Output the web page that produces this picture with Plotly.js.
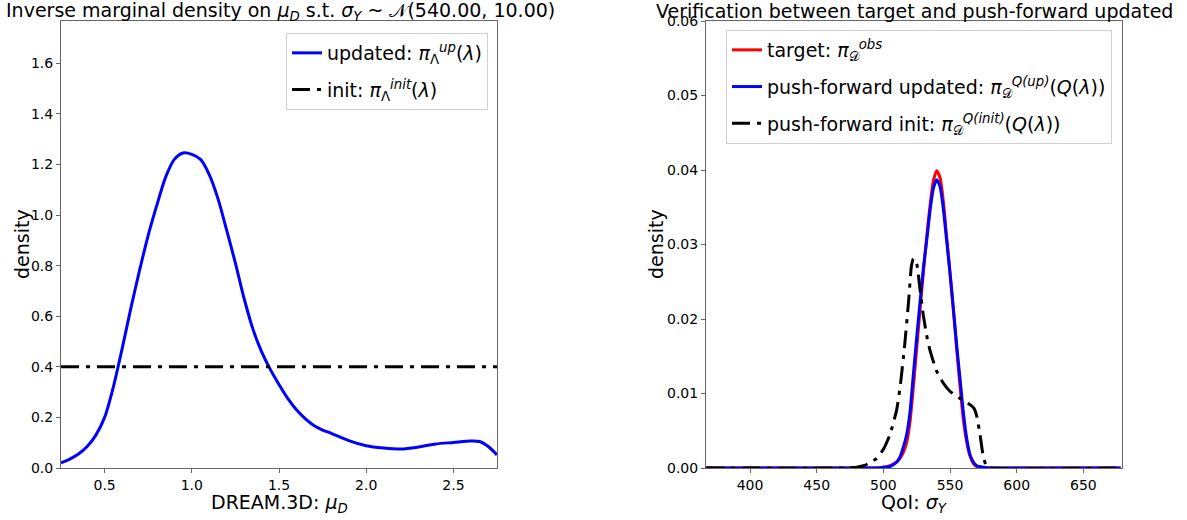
<!DOCTYPE html>
<html><head><meta charset="utf-8">
<script src="https://cdn.plot.ly/plotly-3.0.1.min.js"></script>
<style>html,body{margin:0;padding:0;background:#fff}</style>
</head><body><div id="chart" style="width:1187px;height:520px"></div>
<script>
// Left panel: inverse marginal density on mu_D
const muD = [0.25,0.3,0.35,0.4,0.45,0.5,0.55,0.6,0.65,0.7,0.75,0.8,0.85,0.9,0.95,1.0,1.05,1.1,1.15,1.2,1.25,1.3,1.35,1.4,1.45,1.5,1.55,1.6,1.65,1.7,1.75,1.8,1.9,2.0,2.1,2.2,2.3,2.4,2.5,2.6,2.65,2.7,2.75];
const densUpdated = [0.02,0.035,0.055,0.085,0.13,0.2,0.32,0.47,0.63,0.78,0.92,1.04,1.15,1.22,1.245,1.24,1.22,1.16,1.065,0.94,0.81,0.67,0.55,0.46,0.39,0.33,0.275,0.23,0.195,0.168,0.15,0.137,0.108,0.088,0.079,0.075,0.083,0.095,0.101,0.107,0.105,0.085,0.052];
const muDInit = [0.25, 2.75];
const densInit = [0.4, 0.4];

// Right panel: push-forward verification on sigma_Y
const qoiTarget = [367,480,495,500,505,510,512.5,515,517.5,520,522.5,525,527.5,530,532.5,535,537.5,540,542.5,545,547.5,550,552.5,555,557.5,560,562.5,565,567.5,570,575,580,600,678];
const densTarget = [0,0,0,0.0001,0.0003,0.0008,0.0013,0.0021,0.0034,0.0062,0.0108,0.0160,0.0212,0.0262,0.0310,0.0352,0.0385,0.0399,0.0390,0.0358,0.0310,0.0262,0.0212,0.0160,0.0110,0.0065,0.0035,0.0016,0.0006,0.0002,0,0,0,0];
const qoiUpdated = [367,480,495,500,505,510,512.5,515,517.5,520,522.5,525,527.5,530,532.5,535,537.5,540,542.5,545,547.5,550,552.5,555,557.5,560,562.5,565,567.5,570,575,580,600,678];
const densUpdatedPF = [0,0,0,0.0001,0.0002,0.0008,0.0015,0.0028,0.0045,0.0075,0.0125,0.0175,0.0222,0.0268,0.0305,0.0345,0.0375,0.0387,0.0378,0.0348,0.0305,0.0262,0.0215,0.0165,0.0120,0.0075,0.0040,0.0018,0.0008,0.0003,0.0001,0,0,0];
const qoiInit = [367,470,480,485,490,495,500,505,510,513,516,519,521,522.5,524,525.5,527.5,530,532.5,535,540,545,550,555,560,565,568,570,572.5,575,577.5,580,678];
const densInitPF = [0,0,0.0001,0.0003,0.0007,0.0013,0.0025,0.0045,0.0078,0.0115,0.0165,0.0225,0.0270,0.0281,0.0280,0.0270,0.0240,0.0205,0.0178,0.0158,0.0130,0.0114,0.0103,0.0096,0.0091,0.0085,0.0080,0.0070,0.0045,0.0015,0.0002,0,0];

const xTicksL = [0.5,1.0,1.5,2.0,2.5];
const yTicksL = [0.0,0.2,0.4,0.6,0.8,1.0,1.2,1.4,1.6];
const xTicksR = [400,450,500,550,600,650];
const yTicksR = [0.00,0.01,0.02,0.03,0.04,0.05,0.06];

const FONT = 'DejaVu Sans, sans-serif';
const DASHDOT = '18px,7px,4px,7px';

const traces = [
  {x: muD, y: densUpdated, xaxis:'x', yaxis:'y', mode:'lines', line:{color:'#0000ff', width:3, shape:'spline', smoothing:0.8},
   name:'updated: <i>π</i><sub>Λ</sub><sup><i>up</i></sup>(<i>λ</i>)', legend:'legend', legendgroup:'a'},
  {x: muDInit, y: densInit, xaxis:'x', yaxis:'y', mode:'lines', line:{color:'#000000', width:3, dash:DASHDOT},
   name:'init: <i>π</i><sub>Λ</sub><sup><i>init</i></sup>(<i>λ</i>)', legend:'legend', legendgroup:'b'},
  {x: qoiTarget, y: densTarget, xaxis:'x2', yaxis:'y2', mode:'lines', line:{color:'#ff0000', width:3, shape:'spline', smoothing:0.6},
   name:'target: <i>π</i><sub>𝒟</sub><sup><i>obs</i></sup>', legend:'legend2', legendgroup:'c'},
  {x: qoiUpdated, y: densUpdatedPF, xaxis:'x2', yaxis:'y2', mode:'lines', line:{color:'#0000ff', width:3, shape:'spline', smoothing:0.6},
   name:'push-forward updated: <i>π</i><sub>𝒟</sub><sup><i>Q(up)</i></sup>(<i>Q</i>(<i>λ</i>))', legend:'legend2', legendgroup:'d'},
  {x: qoiInit, y: densInitPF, xaxis:'x2', yaxis:'y2', mode:'lines', line:{color:'#000000', width:3, dash:DASHDOT, shape:'spline', smoothing:0.5},
   name:'push-forward init: <i>π</i><sub>𝒟</sub><sup><i>Q(init)</i></sup>(<i>Q</i>(<i>λ</i>))', legend:'legend2', legendgroup:'e'}
];

const W = 1187, H = 520;
const axBase = {
  showgrid:false, zeroline:false, showline:true, mirror:true, linecolor:'#666', linewidth:1,
  ticks:'outside', ticklen:4, tickcolor:'#666', tickfont:{family:FONT, size:14, color:'#000'},
  fixedrange:true
};
const legBase = {
  font:{family:FONT, size:19, color:'#000'}, bgcolor:'rgba(255,255,255,0.8)',
  bordercolor:'#d0d0d0', borderwidth:1, xanchor:'right', yanchor:'top', tracegroupgap:9
};
const TFONT = {family:FONT, size:19, color:'#000'};
function note(text, px, py, angle) {
  return {text:text, xref:'paper', yref:'paper', x:px/W, y:(H-py)/H, xanchor:'center', yanchor:'middle',
          showarrow:false, textangle:angle||0, font:TFONT};
}

const layout = {
  width:W, height:H, margin:{l:0,r:0,t:0,b:0},
  paper_bgcolor:'#fff', plot_bgcolor:'#fff', font:{family:FONT, color:'#000'},
  xaxis: Object.assign({}, axBase, {domain:[61/W, 497/W], range:[0.25,2.75], tickvals:xTicksL,
    ticktext:xTicksL.map(v=>v.toFixed(1)), anchor:'y'}),
  yaxis: Object.assign({}, axBase, {domain:[52/H, 499/H], range:[0,1.767], tickvals:yTicksL,
    ticktext:yTicksL.map(v=>v.toFixed(1)), anchor:'x'}),
  xaxis2: Object.assign({}, axBase, {domain:[706/W, 1122/W], range:[367,679], tickvals:xTicksR,
    ticktext:xTicksR.map(String), anchor:'y2'}),
  yaxis2: Object.assign({}, axBase, {domain:[52/H, 499/H], range:[0,0.06], tickvals:yTicksR,
    ticktext:yTicksR.map(v=>v.toFixed(2)), anchor:'x2'}),
  legend: Object.assign({}, legBase, {x:488/W, y:(H-33)/H}),
  legend2: Object.assign({}, legBase, {x:1112/W, y:(H-30)/H}),
  annotations: [
    note('Inverse marginal density on <i>μ</i><sub><i>D</i></sub> s.t. <i>σ</i><sub><i>Y</i></sub> ~ 𝒩(540.00, 10.00)', 280, 11),
    note('Verification between target and push-forward updated', 914, 11),
    note('DREAM.3D: <i>μ</i><sub><i>D</i></sub>', 279, 503),
    note('QoI: <i>σ</i><sub><i>Y</i></sub>', 914, 503),
    note('density', 22, 244, -90),
    note('density', 656, 244, -90)
  ],
  showlegend:true
};

Plotly.newPlot('chart', traces, layout, {staticPlot:true, displayModeBar:false});
</script>
</body></html>
